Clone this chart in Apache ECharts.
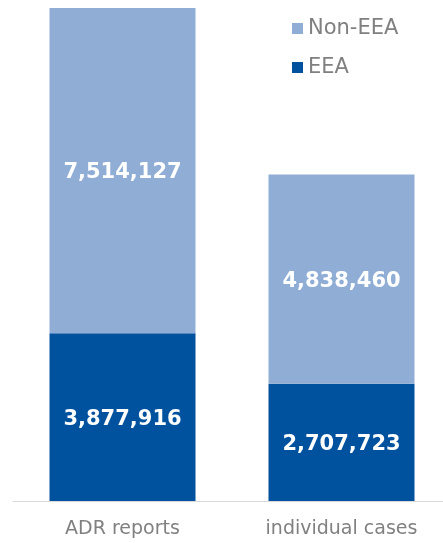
<!DOCTYPE html>
<html>
<head>
<meta charset="utf-8">
<script src="https://cdn.jsdelivr.net/npm/echarts@6/dist/echarts.min.js"></script>
<style>
  html, body { margin: 0; padding: 0; background: #ffffff; }
  #chart { width: 443px; height: 543px; }
</style>
</head>
<body>
<div id="chart"></div>
<script>
// Report counts split by origin
const categories = ['ADR reports', 'individual cases'];
const eeaValues = [3877916, 2707723];
const nonEeaValues = [7514127, 4838460];
const seriesNames = ['Non-EEA', 'EEA'];

const colorLight = '#8fadd5';
const colorDark = '#00519e';
const fontFamily = '"DejaVu Sans", Verdana, sans-serif';

const totals = categories.map((_, i) => eeaValues[i] + nonEeaValues[i]);
const yMax = Math.max(...totals);

const fmt = v => v.toLocaleString('en-US');

const labelStyle = {
  show: true,
  position: 'inside',
  offset: [0, 2],
  color: '#ffffff',
  fontFamily: fontFamily,
  fontWeight: 'bold',
  fontSize: 21,
  formatter: p => fmt(p.value)
};

const chart = echarts.init(document.getElementById('chart'), null, { renderer: 'canvas' });
chart.setOption({
  animation: false,
  backgroundColor: '#ffffff',
  grid: {
    left: 13, width: 438, top: 8, bottom: 42,
    containLabel: false,
    outerBoundsMode: 'none'
  },
  legend: {
    data: seriesNames,
    orient: 'vertical',
    left: 287,
    top: 13,
    itemWidth: 11,
    itemHeight: 11,
    itemGap: 18,
    icon: 'rect',
    textStyle: { color: '#808080', fontFamily: fontFamily, fontSize: 21 }
  },
  xAxis: {
    type: 'category',
    data: categories,
    axisLine: { show: true, lineStyle: { color: '#d9d9d9', width: 1 } },
    axisTick: { show: false },
    axisLabel: { color: '#808080', fontFamily: fontFamily, fontSize: 19, margin: 19 }
  },
  yAxis: {
    type: 'value',
    min: 0,
    max: yMax,
    show: false,
    splitLine: { show: false }
  },
  series: [
    {
      name: 'EEA',
      type: 'bar',
      stack: 'total',
      barWidth: 146,
      data: eeaValues,
      itemStyle: { color: colorDark },
      label: labelStyle
    },
    {
      name: 'Non-EEA',
      type: 'bar',
      stack: 'total',
      barWidth: 146,
      data: nonEeaValues,
      itemStyle: { color: colorLight },
      label: labelStyle
    }
  ]
});
</script>
</body>
</html>
